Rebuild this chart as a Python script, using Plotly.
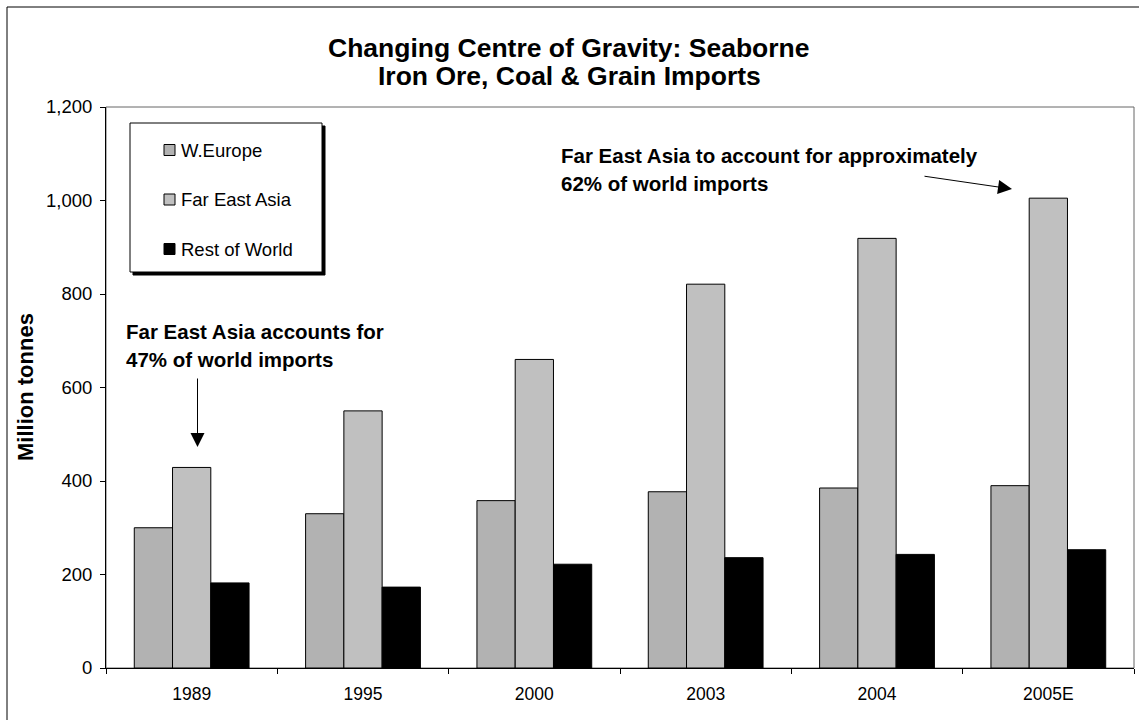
import plotly.graph_objects as go

# Seaborne imports of iron ore, coal and grain (million tonnes)
categories = ["1989", "1995", "2000", "2003", "2004", "2005E"]
w_europe = [300, 330, 358, 377, 385, 390]
far_east_asia = [429, 550, 660, 821, 919, 1005]
rest_of_world = [182, 173, 222, 236, 243, 253]

series_names = ["W.Europe", "Far East Asia", "Rest of World"]
series_colors = ["#B2B2B2", "#C0C0C0", "#000000"]

y_ticks = [0, 200, 400, 600, 800, 1000, 1200]

FONT = "Liberation Sans, Arial, sans-serif"

# figure geometry (pixels)
W, H = 1139, 720
ML, MR, MT, MB = 106, 5, 107, 52
PW, PH = W - ML - MR, H - MT - MB


def px(x):
    """pixel x -> paper x"""
    return (x - ML) / PW


def py(y):
    """pixel y (from top) -> paper y"""
    return (H - MB - y) / PH


fig = go.Figure()
for name, vals, col in zip(series_names, [w_europe, far_east_asia, rest_of_world], series_colors):
    fig.add_trace(go.Bar(
        x=categories, y=vals, name=name,
        marker=dict(color=col, line=dict(color="#000000", width=1)),
        showlegend=False,
    ))

shapes = []
annotations = []

# outer chart frame
shapes.append(dict(type="rect", xref="paper", yref="paper",
                   x0=px(7), x1=px(1160), y0=py(740), y1=py(7),
                   line=dict(color="#000000", width=1), layer="below"))
# plot-area border
shapes.append(dict(type="rect", xref="paper", yref="paper",
                   x0=0, x1=1, y0=0, y1=1,
                   line=dict(color="#666666", width=1), layer="below"))

# legend box with drop shadow
lx0, lx1, ly0, ly1 = 130, 322, 123, 272
shapes.append(dict(type="rect", xref="paper", yref="paper",
                   x0=px(lx0 + 3), x1=px(lx1 + 3), y0=py(ly1 + 3), y1=py(ly0 + 3),
                   line=dict(color="#000000", width=1), fillcolor="#000000", layer="above"))
shapes.append(dict(type="rect", xref="paper", yref="paper",
                   x0=px(lx0), x1=px(lx1), y0=py(ly1), y1=py(ly0),
                   line=dict(color="#000000", width=1), fillcolor="#FFFFFF", layer="above"))
for i, (name, col) in enumerate(zip(series_names, series_colors)):
    cy = 150 + i * 49.5
    shapes.append(dict(type="rect", xref="paper", yref="paper",
                       x0=px(164), x1=px(175), y0=py(cy + 5.5), y1=py(cy - 5.5),
                       line=dict(color="#000000", width=1), fillcolor=col, layer="above"))
    annotations.append(dict(text=name, xref="paper", yref="paper",
                            x=px(178.5), y=py(cy), xanchor="left", yanchor="middle",
                            showarrow=False, font=dict(family=FONT, size=18.5, color="#000000")))

# title (two lines)
title_lines = ["Changing Centre of Gravity: Seaborne", "Iron Ore, Coal & Grain Imports"]
for i, line in enumerate(title_lines):
    annotations.append(dict(text="<b>%s</b>" % line, xref="paper", yref="paper",
                            x=px(569), y=py(48 + i * 28.5), xanchor="center", yanchor="middle",
                            showarrow=False, font=dict(family=FONT, size=26.5, color="#000000")))

# y-axis title
annotations.append(dict(text="<b>Million tonnes</b>", xref="paper", yref="paper",
                        x=px(25), y=py(387), xanchor="center", yanchor="middle", textangle=-90,
                        showarrow=False, font=dict(family=FONT, size=22, color="#000000")))

# call-out notes
note_1989 = ["Far East Asia accounts for", "47% of world imports"]
for i, line in enumerate(note_1989):
    annotations.append(dict(text="<b>%s</b>" % line, xref="paper", yref="paper",
                            x=px(124), y=py(331 + i * 28.5), xanchor="left", yanchor="middle",
                            showarrow=False, font=dict(family=FONT, size=20.5, color="#000000")))
note_2005 = ["Far East Asia to account for approximately", "62% of world imports"]
for i, line in enumerate(note_2005):
    annotations.append(dict(text="<b>%s</b>" % line, xref="paper", yref="paper",
                            x=px(559), y=py(155 + i * 28), xanchor="left", yanchor="middle",
                            showarrow=False, font=dict(family=FONT, size=20.5, color="#000000")))

# arrows
annotations.append(dict(text="", xref="paper", yref="paper", x=px(197.5), y=py(447),
                        ax=0, ay=-70, showarrow=True, arrowhead=2, arrowsize=2.8,
                        arrowwidth=1, arrowcolor="#000000"))
annotations.append(dict(text="", xref="paper", yref="paper", x=px(1012), y=py(189),
                        ax=-89, ay=-13, showarrow=True, arrowhead=2, arrowsize=2.8,
                        arrowwidth=1, arrowcolor="#000000"))

fig.update_layout(
    width=W, height=H,
    margin=dict(l=ML, r=MR, t=MT, b=MB, pad=0),
    paper_bgcolor="#FFFFFF", plot_bgcolor="#FFFFFF",
    barmode="group", bargap=0.33, bargroupgap=0,
    font=dict(family=FONT, size=17.5, color="#000000"),
    shapes=shapes, annotations=annotations,
    xaxis=dict(
        type="category", tickson="boundaries", ticks="outside", ticklen=5,
        tickcolor="#000000", showline=True, linecolor="#000000", linewidth=1,
        showgrid=False, ticklabelstandoff=10,
        tickfont=dict(family=FONT, size=17.5, color="#000000"),
    ),
    yaxis=dict(
        range=[0, 1200], tickvals=y_ticks, tickformat=",", ticks="outside", ticklen=5,
        tickcolor="#000000", showline=True, linecolor="#000000", linewidth=1,
        showgrid=False, zeroline=False, ticklabelstandoff=4,
        tickfont=dict(family=FONT, size=18.5, color="#000000"),
    ),
)

fig.write_html("out.html")
